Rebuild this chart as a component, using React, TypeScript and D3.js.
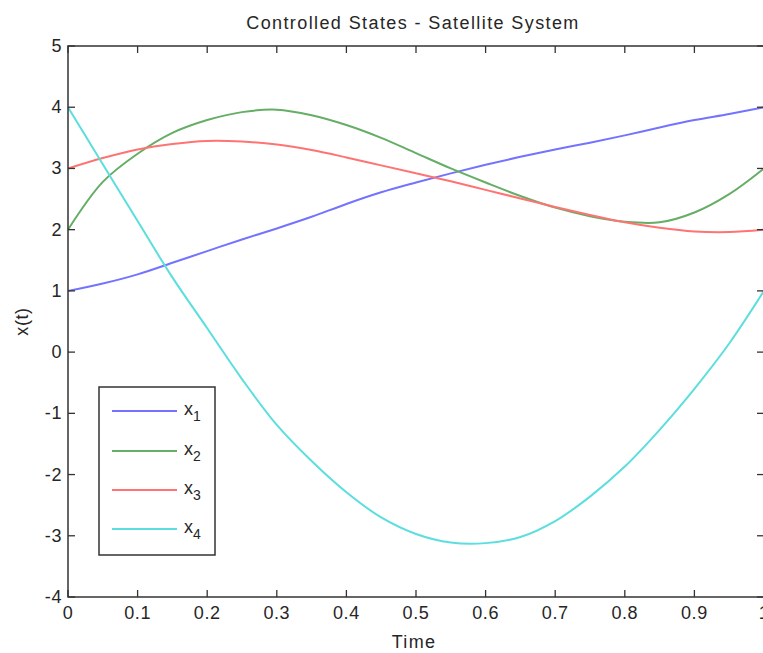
import { useEffect, useRef } from 'react'
import * as d3 from 'd3'

const time = [0, 0.05, 0.1, 0.15, 0.2, 0.25, 0.3, 0.35, 0.4, 0.45, 0.5, 0.55, 0.6, 0.65, 0.7, 0.75, 0.8, 0.85, 0.9, 0.95, 1]
const x1 = [1.0, 1.12, 1.27, 1.46, 1.65, 1.84, 2.02, 2.21, 2.42, 2.61, 2.77, 2.92, 3.06, 3.19, 3.31, 3.42, 3.54, 3.67, 3.79, 3.89, 4.0]
const x2 = [2.0, 2.78, 3.24, 3.58, 3.79, 3.92, 3.96, 3.87, 3.71, 3.5, 3.25, 3.0, 2.77, 2.55, 2.36, 2.22, 2.13, 2.12, 2.28, 2.58, 3.0]
const x3 = [3.0, 3.17, 3.31, 3.4, 3.45, 3.44, 3.39, 3.3, 3.18, 3.05, 2.92, 2.79, 2.65, 2.51, 2.37, 2.24, 2.12, 2.03, 1.97, 1.96, 2.0]
const x4 = [4.0, 3.07, 2.14, 1.22, 0.39, -0.44, -1.19, -1.78, -2.29, -2.7, -2.97, -3.11, -3.12, -3.02, -2.76, -2.36, -1.87, -1.27, -0.6, 0.14, 1.0]

const seriesNames = ['1', '2', '3', '4']
const seriesColors = ['#7373ff', '#66ad66', '#ff7373', '#5cdede']
const xTicks = [0, 0.1, 0.2, 0.3, 0.4, 0.5, 0.6, 0.7, 0.8, 0.9, 1]
const yTicks = [-4, -3, -2, -1, 0, 1, 2, 3, 4, 5]

const W = 763
const H = 653
const FONT = '"Liberation Sans", Arial, sans-serif'

function App() {
  const svgRef = useRef<SVGSVGElement>(null)

  useEffect(() => {
    if (!svgRef.current) return
    const svg = d3.select(svgRef.current)
    svg.selectAll('*').remove()

    const x = d3.scaleLinear().domain([0, 1]).range([68, 764])
    const y = d3.scaleLinear().domain([-4, 5]).range([597, 46])
    const [left, right] = x.range()
    const [bottom, top] = y.range()
    const axisColor = '#333'
    const tickLen = 7

    // lines
    const all = [x1, x2, x3, x4]
    const line = d3
      .line<number>()
      .x((_, i) => x(time[i]))
      .y((d) => y(d))
      .curve(d3.curveCatmullRom.alpha(0.5))

    all.forEach((vals, k) => {
      svg
        .append('path')
        .datum(vals)
        .attr('d', line)
        .attr('fill', 'none')
        .attr('stroke', seriesColors[k])
        .attr('stroke-width', 2)
    })

    // box
    svg
      .append('rect')
      .attr('x', left)
      .attr('y', top)
      .attr('width', right - left)
      .attr('height', bottom - top)
      .attr('fill', 'none')
      .attr('stroke', axisColor)
      .attr('stroke-width', 1.5)

    // ticks (inward, on all sides)
    const g = svg.append('g').attr('stroke', axisColor).attr('stroke-width', 1.3)
    xTicks.forEach((t) => {
      g.append('line').attr('x1', x(t)).attr('x2', x(t)).attr('y1', bottom).attr('y2', bottom - tickLen)
      g.append('line').attr('x1', x(t)).attr('x2', x(t)).attr('y1', top).attr('y2', top + tickLen)
    })
    yTicks.forEach((t) => {
      g.append('line').attr('x1', left).attr('x2', left + tickLen).attr('y1', y(t)).attr('y2', y(t))
      g.append('line').attr('x1', right).attr('x2', right - tickLen).attr('y1', y(t)).attr('y2', y(t))
    })

    const text = svg
      .append('g')
      .attr('font-family', FONT)
      .attr('fill', '#262626')
      .attr('letter-spacing', 0.6)

    xTicks.forEach((t) => {
      text
        .append('text')
        .attr('x', x(t))
        .attr('y', bottom + 22)
        .attr('text-anchor', 'middle')
        .attr('font-size', 18)
        .text(d3.format('~g')(t))
    })
    yTicks.forEach((t) => {
      text
        .append('text')
        .attr('x', left - 6)
        .attr('y', y(t) + 6)
        .attr('text-anchor', 'end')
        .attr('font-size', 18)
        .text(String(t))
    })

    text
      .append('text')
      .attr('x', 413)
      .attr('y', 29)
      .attr('text-anchor', 'middle')
      .attr('font-size', 18)
      .attr('letter-spacing', 1.4)
      .text('Controlled States - Satellite System')

    text
      .append('text')
      .attr('x', 414)
      .attr('y', 648)
      .attr('text-anchor', 'middle')
      .attr('font-size', 18)
      .attr('letter-spacing', 1.3)
      .text('Time')

    text
      .append('text')
      .attr('transform', `translate(28,${(top + bottom) / 2}) rotate(-90)`)
      .attr('text-anchor', 'middle')
      .attr('font-size', 18)
      .text('x(t)')

    // legend
    const lg = svg.append('g')
    lg.append('rect')
      .attr('x', 99)
      .attr('y', 387)
      .attr('width', 116)
      .attr('height', 168)
      .attr('fill', '#fff')
      .attr('stroke', axisColor)
      .attr('stroke-width', 1.5)
    const legendY = [411, 451, 490, 529]
    seriesNames.forEach((n, k) => {
      lg.append('line')
        .attr('x1', 112)
        .attr('x2', 177)
        .attr('y1', legendY[k])
        .attr('y2', legendY[k])
        .attr('stroke', seriesColors[k])
        .attr('stroke-width', 2)
      const t = lg
        .append('text')
        .attr('x', 184)
        .attr('y', legendY[k] + 4)
        .attr('font-family', FONT)
        .attr('font-size', 18)
        .attr('fill', '#262626')
      t.append('tspan').text('x')
      t.append('tspan').attr('dy', 6).attr('font-size', 14).text(n)
    })
  }, [])

  return (
    <svg
      ref={svgRef}
      width={W}
      height={H}
      style={{ position: 'absolute', left: 0, top: 0, background: '#fff' }}
    ></svg>
  )
}

export default App
